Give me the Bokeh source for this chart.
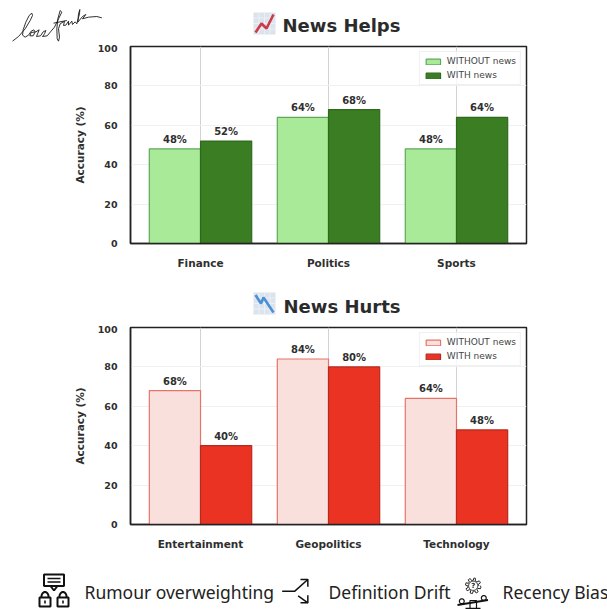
from bokeh.plotting import figure
from bokeh.layouts import column
from bokeh.models import Range1d, FixedTicker, Legend, LegendItem, ColumnDataSource
from bokeh.core.properties import value
from bokeh.embed import file_html
from bokeh.resources import INLINE
import numpy as np

helps_cats = ["Finance", "Politics", "Sports"]
helps_without = [48, 64, 48]
helps_with = [52, 68, 64]
hurts_cats = ["Entertainment", "Geopolitics", "Technology"]
hurts_without = [68, 84, 64]
hurts_with = [40, 80, 48]
y_ticks = [0, 20, 40, 60, 80, 100]
legend_labels = ["WITHOUT news", "WITH news"]
footer_labels = ["Rumour overweighting", "Definition Drift", "Recency Bias"]

DEJA = "DejaVu Sans"
INK = "#2f2f2f"

def chart(cats, without, with_, c1, e1, c2, e2):
    p = figure(width=607, height=239, output_backend="svg", toolbar_location=None,
               x_range=Range1d(-0.547, 2.547), y_range=Range1d(0, 100), frame_align=False,
               min_border_left=130, min_border_right=81, min_border_top=2, min_border_bottom=40)
    idx = list(range(len(cats)))
    p.xaxis.ticker = FixedTicker(ticks=idx)
    p.xaxis.major_label_overrides = {i: c for i, c in enumerate(cats)}
    p.yaxis.ticker = FixedTicker(ticks=y_ticks)
    p.yaxis.axis_label = "Accuracy (%)"
    p.yaxis.axis_label_text_font = DEJA
    p.yaxis.axis_label_text_font_style = "bold"
    p.yaxis.axis_label_text_font_size = "10.5px"
    p.yaxis.axis_label_text_color = INK
    p.yaxis.axis_label_standoff = 9
    for ax in (p.xaxis[0], p.yaxis[0]):
        ax.major_tick_line_color = None
        ax.minor_tick_line_color = None
        ax.axis_line_color = "#222222"
        ax.axis_line_width = 1.5
        ax.major_label_text_font = DEJA
        ax.major_label_text_font_style = "bold"
        ax.major_label_text_color = INK
    p.xaxis.major_label_text_font_size = "10.5px"
    p.yaxis.major_label_text_font_size = "9.5px"
    p.xaxis.major_label_standoff = 7
    p.yaxis.major_label_standoff = 7
    p.outline_line_color = "#222222"
    p.outline_line_width = 1.5
    p.xgrid.ticker = FixedTicker(ticks=idx)
    p.xgrid.grid_line_color = "#d2d2d2"
    p.ygrid.ticker = FixedTicker(ticks=y_ticks)
    p.ygrid.grid_line_color = "#f0f0f0"

    rs = []
    for vals, off, fc, ec in ((without, -0.2, c1, e1), (with_, 0.2, c2, e2)):
        src = ColumnDataSource(dict(x=[i + off for i in idx], top=vals,
                                    lab=[f"{v}%" for v in vals]))
        rs.append(p.vbar(x="x", top="top", width=0.4, bottom=0, source=src,
                         fill_color=fc, line_color=ec, line_width=1.2))
        p.text(x="x", y="top", text="lab", source=src, y_offset=-4,
               text_align="center", text_baseline="bottom",
               text_font=value(DEJA), text_font_style="bold",
               text_font_size="10px", text_color=INK)
    leg = Legend(items=[LegendItem(label=legend_labels[0], renderers=[rs[0]]),
                        LegendItem(label=legend_labels[1], renderers=[rs[1]])],
                 location="top_right", margin=5, padding=4, spacing=4,
                 glyph_width=18, glyph_height=7, label_height=7, label_standoff=5,
                 label_text_font=DEJA, label_text_font_size="9px", label_text_color="#444444",
                 border_line_color="#e2e2e2", border_line_width=1,
                 background_fill_alpha=0.8)
    p.add_layout(leg)
    return p

def strip(y0, y1):
    p = figure(width=607, height=y1 - y0, output_backend="svg", toolbar_location=None,
               x_range=Range1d(0, 607), y_range=Range1d(y1, y0), frame_align=False,
               min_border=0)
    p.axis.visible = False
    p.grid.visible = False
    p.outline_line_color = None
    return p

def title_icon(p, top, bottom, line_x, line_y, color):
    p.quad(left=[253], right=[275], top=[top], bottom=[bottom], fill_color="#dbe3ec", line_color=None)
    for gx in (258.5, 264, 269.5):
        p.line([gx, gx], [top, bottom], line_color="#f0f3f7", line_width=0.8)
    for k in (0.25, 0.5, 0.75):
        gy = top + (bottom - top) * k
        p.line([253, 275], [gy, gy], line_color="#f0f3f7", line_width=0.8)
    p.line(line_x, line_y, line_color=color, line_width=2.6)

def title_text(p, txt, x, y):
    p.text(x=[x], y=[y], text=[txt], text_align="left", text_baseline="middle",
           text_font=value(DEJA), text_font_style="bold", text_font_size="18px", text_color="#2b2b2b")

# header: signature and first title
head = strip(0, 44)
sig_main = [(12,122),(30,108),(50,85),(65,60),(72,45),(70,38),(62,45),(52,65),(44,88),(42,104),(50,110),
            (60,104),(68,92),(76,88),(80,94),(74,106),(64,106),(68,96),(82,94),(92,88),(88,98),(84,108),
            (96,106),(104,94),(112,90),(108,100),(102,108),(116,106),(126,94),(138,80),(150,55),(160,35),
            (155,30),(148,55),(145,85),(146,115),(150,122),(153,110),(150,85),(155,70),(168,62),(165,75),
            (172,74),(180,62),(180,74),(190,62),(192,72),(200,64),(205,70),(213,40),(214,27),(210,40),
            (208,65),(222,48),(232,42),(222,55),(240,50),(265,48),(280,52)]
sig_cross = [(135,68),(175,60)]
for s in (sig_main, sig_cross):
    head.line([a / 3 + 8 for a, b in s], [b / 3 for a, b in s], line_color="#1a1a1a", line_width=0.9)
title_icon(head, 12, 34, [255, 261, 266, 273], [32, 23, 28, 14], "#cf3a48")
title_text(head, "News Helps", 282, 24.5)

mid = strip(283, 325)
title_icon(mid, 292, 314, [255, 260.5, 263, 273], [294.5, 303, 297, 312], "#4a90d9")
title_text(mid, "News Hurts", 283, 305.5)

p1 = chart(helps_cats, helps_without, helps_with, "#a8ea98", "#5fa85a", "#3a7d22", "#2f6a1c")
p2 = chart(hurts_cats, hurts_without, hurts_with, "#fae0dc", "#e57368", "#ea3323", "#b52a1e")

# footer: icons and labels
foot = strip(564, 609)
for txt, x in zip(footer_labels, (84, 328, 502)):
    foot.text(x=[x], y=[591], text=[txt], text_align="left", text_baseline="middle",
              text_font=value("Noto Sans"), text_font_size="17.5px", text_color="#222222")
K = "#111111"
# rumour icon
foot.quad(left=[43.5], right=[63.5], top=[574], bottom=[585.5], fill_color=None, line_color=K, line_width=2)
foot.line([50, 53.5, 57], [585.5, 590, 585.5], line_color=K, line_width=2)
foot.line([47, 60], [578, 578], line_color=K, line_width=1.5)
foot.line([47, 60], [581.5, 581.5], line_color=K, line_width=1.5)
for cx in (44.5, 62.5):
    foot.quad(left=[cx - 5.5], right=[cx + 5.5], top=[597], bottom=[606], fill_color=None, line_color=K, line_width=2)
    a = np.linspace(np.pi, 2 * np.pi, 12)
    foot.line(cx + 3.6 * np.cos(a), 596.5 + 5 * np.sin(a), line_color=K, line_width=2)
    foot.line([cx, cx], [600, 603], line_color=K, line_width=1.6)
# drift icon
ox, oy = 275, 568
for s in ([(20,68),(58,68),(97,33)], [(75,33),(97,33),(97,55)], [(68,82),(97,103)], [(97,80),(97,103),(75,103)]):
    foot.line([a / 3 + ox for a, b in s], [b / 3 + oy for a, b in s], line_color=K, line_width=1.5)
# recency icon
gx, gy = 472.7, 585.3
ang = np.linspace(0, 2 * np.pi, 65)
rad = 6.6 + 1.2 * np.sign(np.sin(8 * ang))
foot.line(gx + rad * np.cos(ang), gy + rad * np.sin(ang), line_color="#222222", line_width=1)
foot.line(gx + 4.6 * np.cos(ang), gy + 4.6 * np.sin(ang), line_color="#222222", line_width=1)
foot.text(x=[gx], y=[gy], text=["?"], text_align="center", text_baseline="middle",
          text_font=value(DEJA), text_font_style="bold", text_font_size="7px", text_color="#222222")
foot.line([457, 487.5], [604.5, 599.5], line_color=K, line_width=1.8)
for cx, cy in ((461.3, 600.7), (483.3, 597.5)):
    foot.line(cx + 2.4 * np.cos(ang), cy + 2.4 * np.sin(ang), line_color=K, line_width=1.2)
foot.quad(left=[469.5], right=[476], top=[600], bottom=[608], fill_color=None, line_color=K, line_width=1.2)
foot.line([465, 480], [608, 608], line_color=K, line_width=1.4)

page = column(head, p1, mid, p2, foot, spacing=0)
open("out.html", "w").write(file_html(page, INLINE))
